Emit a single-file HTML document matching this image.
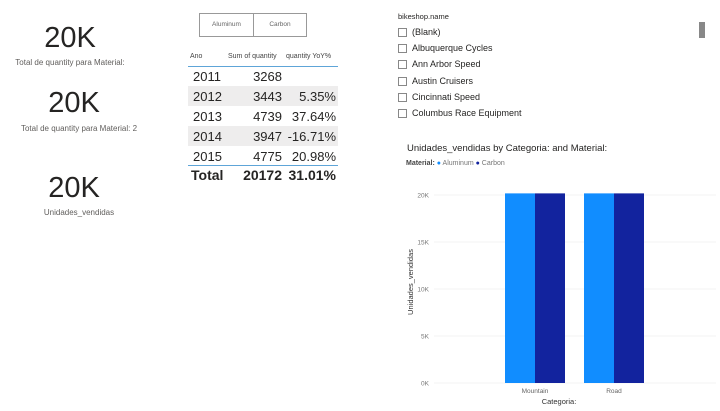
<!DOCTYPE html>
<html><head><meta charset="utf-8"><style>
body{margin:0;width:720px;height:411px;background:#fff;font-family:"Liberation Sans",sans-serif;position:relative;overflow:hidden;color:#252423}
.abs{position:absolute}
.big{font-size:29px;color:#252423;text-align:center;width:140px}
.lbl{font-size:8px;color:#605e5c;text-align:center;width:160px}
.btn{border:1px solid #999;font-size:6.5px;color:#666;text-align:center;line-height:22px;height:22px;top:13px}
.cell{font-size:13px;color:#252423}
.hdr{font-size:7px;color:#444}
.item{font-size:9px;color:#252423;left:412px}
.cb{left:398px;width:9px;height:9px;border:1px solid #888;box-sizing:border-box}
</style></head><body>
<div class="abs big" style="left:0;top:22px">20K</div>
<div class="abs lbl" style="left:-10px;top:58px">Total de quantity para Material:</div>
<div class="abs big" style="left:4px;top:87px">20K</div>
<div class="abs lbl" style="left:-6px;top:124px;width:170px">Total de quantity para Material: 2</div>
<div class="abs big" style="left:4px;top:172px">20K</div>
<div class="abs lbl" style="left:-6px;top:208px;width:170px">Unidades_vendidas</div>

<div class="abs btn" style="left:199px;width:53px">Aluminum</div>
<div class="abs btn" style="left:253px;width:52px">Carbon</div>

<div>
<div class="abs hdr" style="left:190px;top:53px">Ano</div>
<div class="abs hdr" style="left:228px;top:53px">Sum of quantity</div>
<div class="abs hdr" style="left:286px;top:53px">quantity YoY%</div>
<div class="abs" style="left:188px;top:66px;width:150px;height:1px;background:#5ea5d8"></div>
<div class="abs" style="left:188px;top:86px;width:150px;height:20px;background:#eeeded"></div>
<div class="abs" style="left:188px;top:126px;width:150px;height:20px;background:#eeeded"></div>
<div class="abs" style="left:188px;top:165px;width:150px;height:1px;background:#5ea5d8"></div>
<div id="rows"></div>
</div>

<div class="abs" style="left:398px;top:12px;font-size:7.5px">bikeshop.name</div>
<div id="slicer"></div>
<div class="abs" style="left:699px;top:22px;width:6px;height:16px;background:#888"></div>

<div class="abs" style="left:407px;top:143px;font-size:9.5px;color:#252423">Unidades_vendidas by Categoria: and Material:</div>
<div class="abs" style="left:406px;top:160px;font-size:7px;color:#777"><b style="color:#444">Material:</b> <span style="color:#118dff">●</span> Aluminum <span style="color:#12239e">●</span> Carbon</div>
<svg class="abs" style="left:0;top:0" width="720" height="411" id="chart"></svg>
<script>
const years=["2011","2012","2013","2014","2015"];
const sums=["3268","3443","4739","3947","4775"];
const yoy=["","5.35%","37.64%","-16.71%","20.98%"];
const shops=["(Blank)","Albuquerque Cycles","Ann Arbor Speed","Austin Cruisers","Cincinnati Speed","Columbus Race Equipment"];
const categories=["Mountain","Road"];
const aluminum=[20172,20172];
const carbon=[20172,20172];
const yTicks=[0,5000,10000,15000,20000];
const tickLabels=["0K","5K","10K","15K","20K"];

const rows=document.getElementById('rows');
years.forEach((y,i)=>{
 const t=69+i*20;
 const mk=(txt,l,r,nm)=>{const d=document.createElement('div');d.className='abs cell';d.textContent=txt;d.style.top=t+'px';
  if(l!=null)d.style.left=l+'px';else{d.style.right=(720-r)+'px';}
  
  rows.appendChild(d);};
 mk(y,193,null,'year-cell');mk(sums[i],null,282,'sum-cell');mk(yoy[i],null,336,'yoy-cell');
});
const tot=(txt,l,r,nm)=>{const d=document.createElement('div');d.className='abs cell';d.style.fontWeight='bold';d.style.fontSize='14px';d.textContent=txt;d.style.top='167px';
 if(l!=null)d.style.left=l+'px';else d.style.right=(720-r)+'px';
 
 rows.appendChild(d);};
tot('Total',191,null,'total-label');tot('20172',null,282,'total-sum');tot('31.01%',null,336,'total-yoy');

const sl=document.getElementById('slicer');
shops.forEach((s,i)=>{
 const t=27+i*16.2;
 const c=document.createElement('div');c.className='abs cb';c.style.top=(t+1)+'px';
 
 sl.appendChild(c);
 const d=document.createElement('div');d.className='abs item';d.style.top=t+'px';d.textContent=s;
 
 sl.appendChild(d);
});

const svg=document.getElementById('chart');const NS='http://www.w3.org/2000/svg';
const y0=383,y1=195,maxV=20000;
const ys=v=>y0-(v/maxV)*(y0-y1);
const catX=[505,584],bw=30;
function el(tag,attrs,txt){const e=document.createElementNS(NS,tag);for(const k in attrs)e.setAttribute(k,attrs[k]);if(txt!=null)e.textContent=txt;svg.appendChild(e);return e;}
yTicks.forEach((v,i)=>{
 const g=el('line',{x1:434,x2:716,y1:ys(v),y2:ys(v),stroke:'#f3f3f3','stroke-width':1});
 
 
 const t=el('text',{x:429,y:ys(v)+2.5,'text-anchor':'end','font-size':6.5,fill:'#777','font-family':'Liberation Sans'},tickLabels[i]);
 
 
});
categories.forEach((c,i)=>{
 const a=el('rect',{x:catX[i],y:ys(aluminum[i]),width:bw,height:y0-ys(aluminum[i]),fill:'#118dff'});
 
 
 const b=el('rect',{x:catX[i]+bw,y:ys(carbon[i]),width:bw,height:y0-ys(carbon[i]),fill:'#12239e'});
 
 
 const t=el('text',{x:catX[i]+bw,y:393,'text-anchor':'middle','font-size':6.5,fill:'#666','font-family':'Liberation Sans'},c);
 
 
});
const xt=el('text',{x:559,y:404,'text-anchor':'middle','font-size':7.5,fill:'#333','font-family':'Liberation Sans'},'Categoria:');


const yt=el('text',{x:0,y:0,transform:'translate(413,282) rotate(-90)','text-anchor':'middle','font-size':7.5,fill:'#333','font-family':'Liberation Sans'},'Unidades_vendidas');


</script>
</body></html>
